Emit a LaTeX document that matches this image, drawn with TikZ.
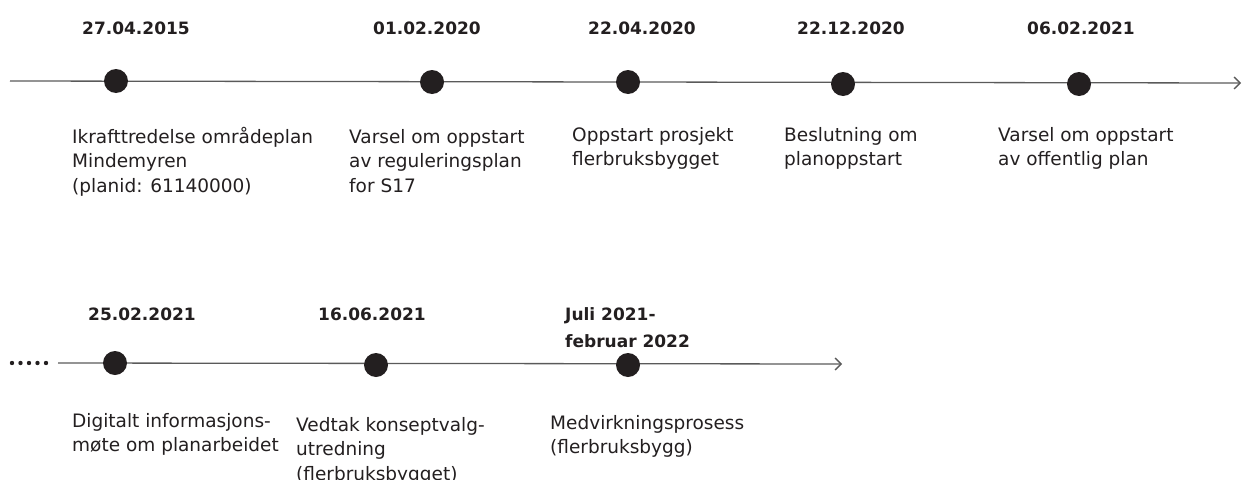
\documentclass[tikz,border=0pt]{standalone}
\usepackage{fontspec}
\setmainfont{DejaVu Sans}
\usetikzlibrary{arrows.meta}
\definecolor{ink}{HTML}{231F20}
\definecolor{axis}{HTML}{5A5A5A}
\tikzset{
  axisline/.style={draw=axis, line width=1.3pt, -{Straight Barb[length=6pt,width=12pt,line width=1.3pt]}},
  event/.style={circle, fill=ink, minimum size=24pt, inner sep=0pt},
  datelbl/.style={anchor=base west, inner sep=0pt, text=ink, align=left,
    font=\bfseries\fontsize{17}{27}\selectfont},
  desc/.style={anchor=north west, inner sep=0pt, text=ink, align=left,
    font=\fontsize{18.5}{24.5}\selectfont},
}
\begin{document}
\begin{tikzpicture}[x=1pt,y=-1pt]
  \useasboundingbox (0,0) rectangle (1247,479);
  % first row
  \coordinate (s1) at (10,81);
  \coordinate (e1) at (1241,83);
  \draw[axisline] (s1) -- (e1);
  \node[event] (d1) at (116,81) {};
  \node[event] (d2) at (432,82) {};
  \node[event] (d3) at (628,82) {};
  \node[event] (d4) at (843,84) {};
  \node[event] (d5) at (1079,84) {};
  \node[datelbl] (t1) at (82,34) {27.04.2015};
  \node[datelbl] (t2) at (373,34) {01.02.2020};
  \node[datelbl] (t3) at (588,34) {22.04.2020};
  \node[datelbl] (t4) at (797,34) {22.12.2020};
  \node[datelbl] (t5) at (1027,34) {06.02.2021};
  \node[desc] (l1) at (72,127) {Ikrafttredelse områdeplan\\Mindemyren\\(planid: 61140000)};
  \node[desc] (l2) at (349,129) {Varsel om oppstart\\av reguleringsplan\\for S17};
  \node[desc] (l3) at (572,127) {Oppstart prosjekt\\flerbruksbygget};
  \node[desc] (l4) at (784,127) {Beslutning om\\planoppstart};
  \node[desc] (l5) at (998,127) {Varsel om oppstart\\av offentlig plan};
  % second row
  \coordinate (s2) at (58,363);
  \coordinate (e2) at (842,364);
  \draw[axisline] (s2) -- (e2);
  \foreach \k in {0,...,4} \fill[ink] (12+\k*8.5,363) circle (2.2pt);
  \node[event] (d6) at (115,363) {};
  \node[event] (d7) at (376,365) {};
  \node[event] (d8) at (628,365) {};
  \node[datelbl] (t6) at (88,320) {25.02.2021};
  \node[datelbl] (t7) at (318,320) {16.06.2021};
  \node[datelbl, anchor=north west] (t8) at (565,307) {Juli 2021-\\februar 2022};
  \node[desc] (l6) at (72,413) {Digitalt informasjons-\\møte om planarbeidet};
  \node[desc] (l7) at (296,417) {Vedtak konseptvalg-\\utredning\\(flerbruksbygget)};
  \node[desc] (l8) at (550,415) {Medvirkningsprosess\\(flerbruksbygg)};
\end{tikzpicture}
\end{document}
